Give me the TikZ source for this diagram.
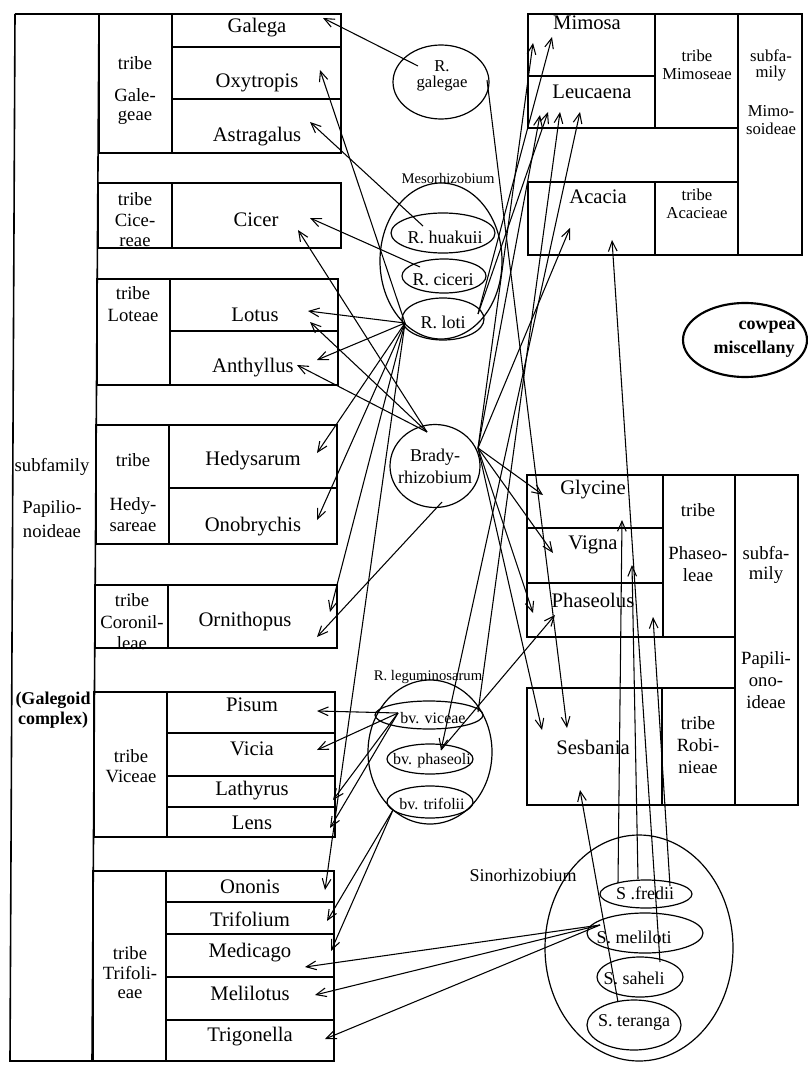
\documentclass[tikz,border=0pt]{standalone}
\usepackage{fontspec}
\setmainfont{Liberation Serif}
\usetikzlibrary{arrows.meta,shapes.geometric}
\begin{document}
\begin{tikzpicture}[x=0.75pt,y=-0.75pt,
  bx/.style={line width=1.2pt},
  gen/.style={inner sep=0pt,font=\fontsize{15.5}{16}\selectfont},
  lab/.style={inner sep=0pt,font=\fontsize{14}{15}\selectfont},
  tight/.style={inner sep=0pt,font=\fontsize{12.5}{13}\selectfont},
  bac/.style={inner sep=0pt,font=\fontsize{13.5}{14}\selectfont},
  sml/.style={inner sep=0pt,font=\fontsize{11}{12}\selectfont},
  bld/.style={inner sep=0pt,font=\fontsize{13.5}{14}\selectfont\bfseries},
  ell/.style={draw,ellipse,inner sep=0pt,line width=0.9pt},
  con/.style={line width=0.8pt,-{Straight Barb[length=7.5pt,width=6.5pt]}},
  con2/.style={line width=0.8pt,{Straight Barb[length=7.5pt,width=6.5pt]}-{Straight Barb[length=7.5pt,width=6.5pt]}},
]
\useasboundingbox (0,0) rectangle (807,1066);

% ---------------- left structure ----------------
\draw[bx] (15,14) -- (99,14);
\draw[bx] (15,14) -- (10,1061) -- (92,1061);
\draw[bx] (99,14) -- (92,1061);
% Galegeae
\draw[bx] (99,14) rectangle (341,153);
\draw[bx] (172,14) -- (172,153) (172,47) -- (341,47) (172,99) -- (341,99);
% Cicereae
\draw[bx] (98,183) rectangle (341,248);
\draw[bx] (172,183) -- (172,248);
% Loteae
\draw[bx] (97,279) rectangle (338,385);
\draw[bx] (170,279) -- (170,385) (170,331) -- (338,331);
% Hedysareae
\draw[bx] (96,425) rectangle (337,544);
\draw[bx] (169,425) -- (169,544) (169,488) -- (337,488);
% Coronilleae
\draw[bx] (95,585) rectangle (337,648);
\draw[bx] (168,585) -- (168,648);
% Viceae
\draw[bx] (94,692) rectangle (335,837);
\draw[bx] (167,692) -- (167,837) (167,733) -- (335,733) (167,776) -- (335,776) (167,807) -- (335,807);
% Trifolieae
\draw[bx] (93,871) rectangle (334,1061);
\draw[bx] (166,871) -- (166,1061) (166,902) -- (334,902) (166,934) -- (334,934) (166,977) -- (334,977) (166,1020) -- (334,1020);

% left texts
\node[lab] (sf1) at (52,467) {subfamily};
\node[lab] (sf2) at (52,509) {Papilio-};
\node[lab] (sf3) at (52,531) {noideae};
\node[bld] (gc1) at (53,700) {(Galegoid};
\node[bld] (gc2) at (53,720) {complex)};

\node[lab] (ga1) at (135,63) {tribe};
\node[lab] (ga2) at (135,95) {Gale-};
\node[lab] (ga3) at (135,118) {geae};
\node[lab] (ci1) at (135,199) {tribe};
\node[lab] (ci2) at (135,220) {Cice-};
\node[lab] (ci3) at (135,242) {reae};
\node[lab] (lo1) at (133,293) {tribe};
\node[lab] (lo2) at (133,315) {Loteae};
\node[lab] (he1) at (133,460) {tribe};
\node[lab] (he2) at (133,506) {Hedy-};
\node[lab] (he3) at (133,527) {sareae};
\node[lab] (co1) at (132,600) {tribe};
\node[lab] (co2) at (132,622) {Coronil-};
\node[lab] (co3) at (132,643) {leae};
\node[lab] (vi1) at (131,756) {tribe};
\node[lab] (vi2) at (131,776) {Viceae};
\node[lab] (tr1) at (130,953) {tribe};
\node[lab] (tr2) at (130,973) {Trifoli-};
\node[lab] (tr3) at (130,994) {eae};

\node[gen] (Galega) at (257,28) {Galega};
\node[gen] (Oxytropis) at (257,83) {Oxytropis};
\node[gen] (Astragalus) at (257,137) {Astragalus};
\node[gen] (Cicer) at (256,220) {Cicer};
\node[gen] (Lotus) at (255,315) {Lotus};
\node[gen] (Anthyllus) at (253,368) {Anthyllus};
\node[gen] (Hedysarum) at (253,461) {Hedysarum};
\node[gen] (Onobrychis) at (253,527) {Onobrychis};
\node[gen] (Ornithopus) at (245,622) {Ornithopus};
\node[gen] (Pisum) at (252,705) {Pisum};
\node[gen] (Vicia) at (252,749) {Vicia};
\node[gen] (Lathyrus) at (252,791) {Lathyrus};
\node[gen] (Lens) at (252,823) {Lens};
\node[gen] (Ononis) at (250,887) {Ononis};
\node[gen] (Trifolium) at (250,919) {Trifolium};
\node[gen] (Medicago) at (250,953) {Medicago};
\node[gen] (Melilotus) at (250,993) {Melilotus};
\node[gen] (Trigonella) at (250,1037) {Trigonella};

% ---------------- right structure ----------------
\draw[bx] (528,14) rectangle (738,128);
\draw[bx] (655,14) -- (655,128) (528,76) -- (655,76);
\draw[bx] (528,182) rectangle (738,255);
\draw[bx] (655,182) -- (655,255);
\draw[bx] (738,14) rectangle (802,255);

\draw[bx] (527,475) rectangle (735,637);
\draw[bx] (663,475) -- (663,637) (527,528) -- (663,528) (527,583) -- (663,583);
\draw[bx] (527,688) rectangle (735,805);
\draw[bx] (662,688) -- (662,805);
\draw[bx] (735,475) rectangle (798,805);

\node[gen] (Mimosa) at (587,23) {Mimosa};
\node[gen] (Leucaena) at (592,92) {Leucaena};
\node[gen] (Acacia) at (598,197) {Acacia};
\node[tight] (mi1) at (697,56) {tribe};
\node[tight] (mi2) at (697,74) {Mimoseae};
\node[tight] (ac1) at (697,195) {tribe};
\node[tight] (ac2) at (697,213) {Acacieae};
\node[tight] (ms1) at (771,56) {subfa-};
\node[tight] (ms2) at (771,74) {mily};
\node[tight] (ms3) at (771,111) {Mimo-};
\node[tight] (ms4) at (771,129) {soideae};

\node[gen] (Glycine) at (593,490) {Glycine};
\node[gen] (Vigna) at (593,545) {Vigna};
\node[gen] (Phaseolus) at (593,600) {Phaseolus};
\node[gen] (Sesbania) at (593,747) {Sesbania};
\node[lab] (ph1) at (698,510) {tribe};
\node[lab] (ph2) at (698,553) {Phaseo-};
\node[lab] (ph3) at (698,575) {leae};
\node[lab] (rb1) at (698,723) {tribe};
\node[lab] (rb2) at (698,745) {Robi-};
\node[lab] (rb3) at (698,767) {nieae};
\node[lab] (ps1) at (766,553) {subfa-};
\node[lab] (ps2) at (766,575) {mily};
\node[lab] (ps3) at (766,660) {Papili-};
\node[lab] (ps4) at (766,682) {ono-};
\node[lab] (ps5) at (766,702) {ideae};

% ---------------- bacteria ----------------
\node[ell,minimum width=96*0.75pt,minimum height=74*0.75pt] (rgal) at (441,82) {};
\node[tight] (rgalt1) at (442,66) {R.};
\node[tight] (rgalt2) at (442,84) {galegae};

\node[sml] (mesot) at (448,178) {Mesorhizobium};
\node[ell,minimum width=122*0.75pt,minimum height=156*0.75pt] (meso) at (441,261) {};
\node[ell,minimum width=104*0.75pt,minimum height=40*0.75pt] (huak) at (443,233) {};
\node[ell,minimum width=84*0.75pt,minimum height=34*0.75pt] (cice) at (444,276) {};
\node[ell,minimum width=82*0.75pt,minimum height=42*0.75pt] (loti) at (443,319) {};
\node[bac] (huakt) at (445,237) {R. huakuii};
\node[bac] (cicet) at (443,280) {R. ciceri};
\node[bac] (lotit) at (443,322) {R. loti};

\node[ell,minimum width=90*0.75pt,minimum height=83*0.75pt] (brady) at (435,466) {};
\node[bac] (bradyt1) at (435,457) {Brady-};
\node[bac] (bradyt2) at (435,477) {rhizobium};

\node[sml] (legt) at (428,677) {R. leguminosarum};
\node[ell,minimum width=124*0.75pt,minimum height=144*0.75pt] (leg) at (430,752) {};
\node[ell,minimum width=108*0.75pt,minimum height=28*0.75pt] (vic) at (429,715) {};
\node[ell,minimum width=86*0.75pt,minimum height=30*0.75pt] (pha) at (430,759) {};
\node[ell,minimum width=86*0.75pt,minimum height=32*0.75pt] (trif) at (430,802) {};
\node[sml,font=\fontsize{12}{13}\selectfont] (vict) at (433,718) {bv. viceae};
\node[sml,font=\fontsize{12}{13}\selectfont] (phat) at (432,761) {bv. phaseoli};
\node[sml,font=\fontsize{12}{13}\selectfont] (trift) at (432,804) {bv. trifolii};

\node[draw,ellipse,inner sep=0pt,line width=1.6pt,minimum width=124*0.75pt,minimum height=74*0.75pt] (cowpea) at (745,340) {};
\node[bld] (cow1) at (767,327) {cowpea};
\node[bld] (cow2) at (754,349) {miscellany};

\node[bac] (sinot) at (523,875) {Sinorhizobium};
\node[ell,minimum width=188*0.75pt,minimum height=226*0.75pt] (sino) at (639,948) {};
\node[ell,minimum width=92*0.75pt,minimum height=28*0.75pt] (fre) at (646,894) {};
\node[ell,minimum width=116*0.75pt,minimum height=40*0.75pt] (mel) at (645,933) {};
\node[ell,minimum width=86*0.75pt,minimum height=40*0.75pt] (sah) at (640,977) {};
\node[ell,minimum width=94*0.75pt,minimum height=50*0.75pt] (ter) at (634,1025) {};
\node[bac] (fret) at (645,893) {S .fredii};
\node[bac] (melt) at (634,937) {S. meliloti};
\node[bac] (saht) at (634,978) {S. saheli};
\node[bac] (tert) at (634,1022) {S. teranga};

% ---------------- connector ends ----------------
\coordinate (sGal) at (418,66);   \coordinate (tGal) at (323,18);
\coordinate (sHua) at (423,226);  \coordinate (tAst) at (310,122);
\coordinate (sCic) at (420,267);  \coordinate (tCic1) at (310,218);
\coordinate (sLoti) at (405,323);
\coordinate (tOxy) at (320,70);
\coordinate (tLot1) at (308,311);
\coordinate (tAnt1) at (317,360);
\coordinate (tHed) at (317,453);
\coordinate (tOnb) at (317,520);
\coordinate (tOrn1) at (330,612);
\coordinate (tOnon) at (325,890);
\coordinate (sBrL) at (427,432);
\coordinate (tCic2) at (298,230);
\coordinate (tLot2) at (310,322);
\coordinate (tAnt2) at (297,365);
\coordinate (sBrB) at (442,502);  \coordinate (tOrn2) at (317,637);
\coordinate (sVic) at (398,713);
\coordinate (tPis) at (317,711);  \coordinate (tVic) at (317,750);
\coordinate (tLat) at (333,800);  \coordinate (tLen) at (330,828);
\coordinate (sTri) at (393,810);
\coordinate (tTrf) at (327,921);  \coordinate (tMed1) at (331,951);
\coordinate (sMel) at (600,925);
\coordinate (tMed2) at (305,967); \coordinate (tMel) at (315,995); \coordinate (tTrg) at (325,1039);
\coordinate (sBrR) at (478,448);
\coordinate (tMim1) at (533,43);  \coordinate (tLeu1) at (540,115); \coordinate (tAca1) at (570,228);
\coordinate (tGly1) at (543,495); \coordinate (tVig1) at (553,553); \coordinate (tPha1) at (533,613);
\coordinate (tSes1) at (542,730);
\coordinate (sLotR) at (478,314);
\coordinate (tMim2) at (552,37);  \coordinate (tLeu2) at (548,112);
\coordinate (sVicR) at (478,712); \coordinate (tLeu3) at (560,112);
\coordinate (sPha) at (441,750);  \coordinate (tLeu4) at (580,112); \coordinate (tPha2) at (555,615);
\coordinate (sGal2) at (487,80);  \coordinate (tSes2) at (567,728);
\coordinate (sFre1) at (618,883); \coordinate (tGly2) at (622,520);
\coordinate (sFre2) at (638,879); \coordinate (tVig2) at (632,565);
\coordinate (sFre3) at (670,886); \coordinate (tPha3) at (653,617);
\coordinate (sSah) at (660,962);  \coordinate (tAca2) at (612,240);
\coordinate (sTer) at (618,1002); \coordinate (tSes3) at (580,790);

% ---------------- connectors ----------------
\draw[con] (sGal) -- (tGal);
\draw[con] (sHua) -- (tAst);
\draw[con] (sCic) -- (tCic1);
\draw[con] (sLoti) -- (tOxy);
\draw[con] (sLoti) -- (tLot1);
\draw[con] (sLoti) -- (tAnt1);
\draw[con] (sLoti) -- (tHed);
\draw[con] (sLoti) -- (tOnb);
\draw[con] (sLoti) -- (tOrn1);
\draw[con] (sLoti) -- (tOnon);
\draw[con] (sBrL) -- (tCic2);
\draw[con] (sBrL) -- (tLot2);
\draw[con] (sBrL) -- (tAnt2);
\draw[con] (sBrB) -- (tOrn2);
\draw[con] (sVic) -- (tPis);
\draw[con] (sVic) -- (tVic);
\draw[con] (sVic) -- (tLat);
\draw[con] (sVic) -- (tLen);
\draw[con] (sTri) -- (tTrf);
\draw[con] (sTri) -- (tMed1);
\draw[con] (sMel) -- (tMed2);
\draw[con] (sMel) -- (tMel);
\draw[con] (sMel) -- (tTrg);
\draw[con] (sBrR) -- (tMim1);
\draw[con] (sBrR) -- (tLeu1);
\draw[con] (sBrR) -- (tAca1);
\draw[con] (sBrR) -- (tGly1);
\draw[con] (sBrR) -- (tVig1);
\draw[con] (sBrR) -- (tPha1);
\draw[con] (sBrR) -- (tSes1);
\draw[con] (sLotR) -- (tMim2);
\draw[con] (sLotR) -- (tLeu2);
\draw[con] (sVicR) -- (tLeu3);
\draw[con2] (sPha) -- (tLeu4);
\draw[con] (sPha) -- (tPha2);
\draw[con] (sGal2) -- (tSes2);
\draw[con] (sFre1) -- (tGly2);
\draw[con] (sFre2) -- (tVig2);
\draw[con] (sFre3) -- (tPha3);
\draw[con] (sSah) -- (tAca2);
\draw[con] (sTer) -- (tSes3);
\end{tikzpicture}
\end{document}
